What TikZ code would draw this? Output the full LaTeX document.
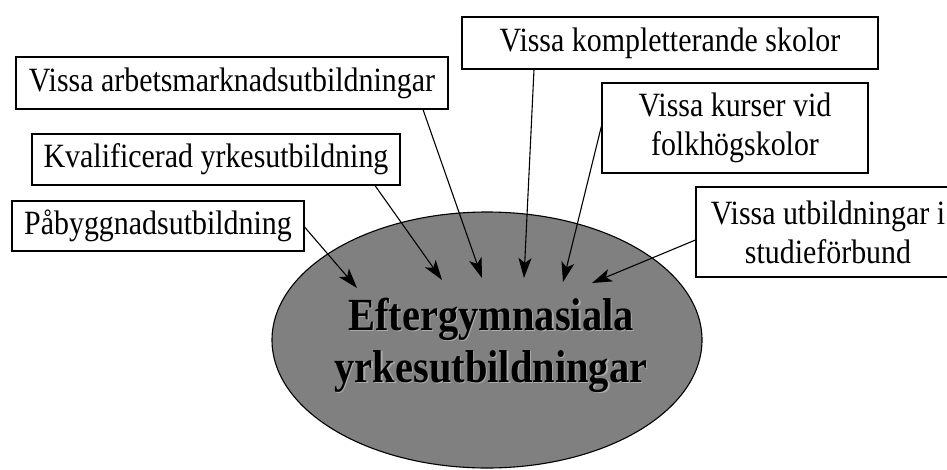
\documentclass[tikz,border=0pt]{standalone}
\usepackage{fontspec}
\setmainfont{Liberation Serif}[FakeStretch=0.88]
\usetikzlibrary{arrows.meta}
\begin{document}
\begin{tikzpicture}[x=1pt,y=-1pt,
  box/.style={draw=black,line width=1.1pt,fill=white,inner sep=0pt,font=\fontsize{34}{39}\selectfont,align=center},
  arr/.style={line width=1.1pt,-{Stealth[length=20pt,width=13pt,inset=5pt]}},
  big/.style={font=\fontsize{46}{52}\selectfont\bfseries,align=center,inner sep=0pt}]
\clip (0,0) rectangle (947,469);
\fill[white] (0,0) rectangle (947,469);
% ellipse
\draw[fill={rgb,255:red,128;green,128;blue,128},line width=1.1pt] (487,340) ellipse [x radius=215pt, y radius=128pt];
\node[big,text=gray!65] (shadow) at (492.2,346.2) {Eftergymnasiala\\yrkesutbildningar};
\node[big,text=black] (center) at (491,345) {Eftergymnasiala\\yrkesutbildningar};
% boxes
\node[box,minimum width=432pt,minimum height=52pt] (arb) at (232,83) {Vissa arbetsmarknadsutbildningar};
\node[box,minimum width=368pt,minimum height=51pt] (kval) at (216,159.5) {Kvalificerad yrkesutbildning};
\node[box,minimum width=292pt,minimum height=50pt] (pab) at (158,226) {Påbyggnadsutbildning};
\node[box,minimum width=416pt,minimum height=52pt] (komp) at (670,43) {Vissa kompletterande skolor};
\node[box,minimum width=266pt,minimum height=90pt] (kurs) at (735,128) {Vissa kurser vid\\folkhögskolor};
\node[box,minimum width=264pt,minimum height=90pt] (stud) at (828,232) {Vissa utbildningar i\\studieförbund};
% tip coordinates
\coordinate (t1) at (357,288);
\coordinate (t2) at (442,280);
\coordinate (t3) at (482,278);
\coordinate (t4) at (524,278);
\coordinate (t5) at (563,282);
\coordinate (t6) at (592,283);
% arrows
\draw[arr] (pab.east) ++(0,1) -- (t1);
\draw[arr] ([xshift=159pt]kval.south) -- (t2);
\draw[arr] ([xshift=191pt]arb.south) -- (t3);
\draw[arr] ([xshift=-136pt]komp.south) -- (t4);
\draw[arr] ([yshift=2pt]kurs.west) -- (t5);
\draw[arr] ([yshift=-8pt]stud.west) -- (t6);
\end{tikzpicture}
\end{document}
